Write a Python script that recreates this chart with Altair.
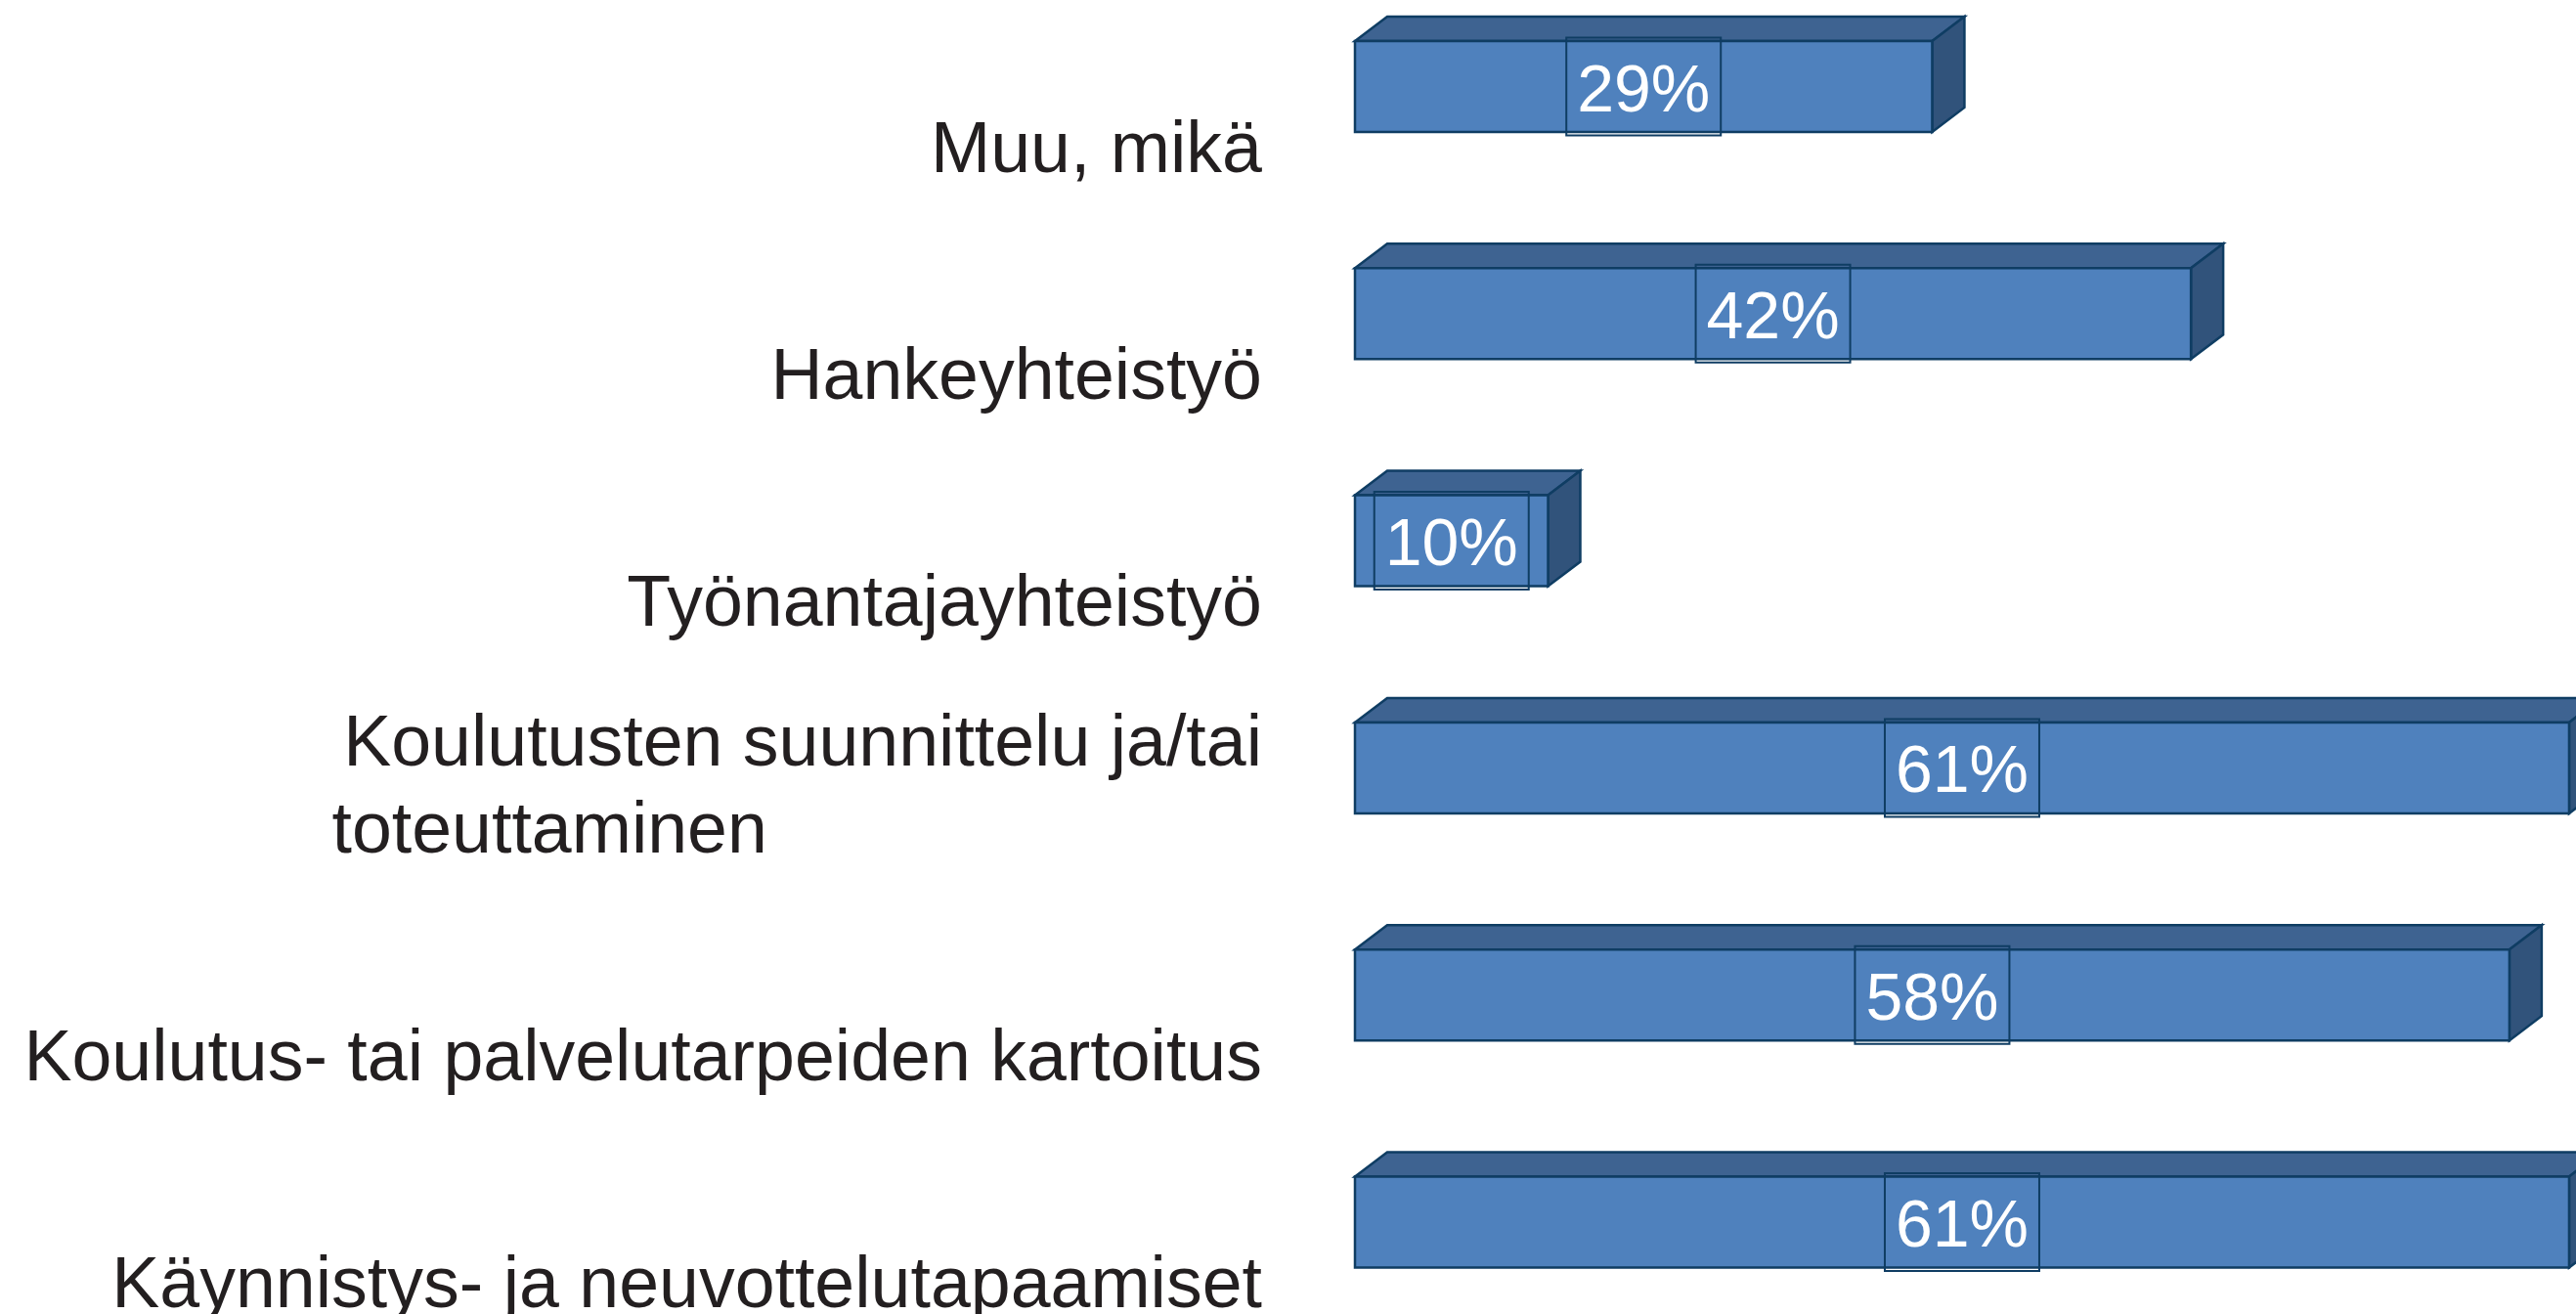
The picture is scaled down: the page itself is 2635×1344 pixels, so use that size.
import altair as alt
import pandas as pd

# ---- data ----
label_line1 = ["Muu, mikä", "Hankeyhteistyö", "Työnantajayhteistyö",
               "Koulutusten suunnittelu ja/tai",
               "Koulutus- tai palvelutarpeiden kartoitus",
               "Käynnistys- ja neuvottelutapaamiset"]
label_line2 = ["", "", "", "toteuttaminen", "", ""]
values = [29, 42, 9.7, 61, 58, 61]

# ---- style / geometry constants ----
W, H = 2635, 1344
LEFT = 1386                  # pixel where 0 % sits
PX_PER_PCT = 20.36
ROW_PX = 232.3
FIRST_ROW_PX = 88.5
LINE_PX = 89
HALF_H = 46.5 / ROW_PX       # half bar thickness in row units
DEPTH_X = 33 / PX_PER_PCT    # 3-D depth in % units
DEPTH_Y = 25 / ROW_PX        # 3-D depth in row units

FRONT = "#4F81BD"
TOP = "#3E6391"
SIDE = "#31537B"
EDGE = "#0F3D63"

XMAX = (W - LEFT) / PX_PER_PCT
YMIN = -FIRST_ROW_PX / ROW_PX
YMAX = (H - FIRST_ROW_PX) / ROW_PX
xs = alt.Scale(domain=[0, XMAX], nice=False, zero=False)
ys = alt.Scale(domain=[YMIN, YMAX], nice=False, zero=False, reverse=True)

rows = []
top_pts = []
side_pts = []
for i, (l1, l2, v) in enumerate(zip(label_line1, label_line2, values)):
    yt = i - HALF_H
    yb = i + HALF_H
    nextra = 1 if l2 else 0
    rows.append({"idx": i, "value": v, "x0": 0, "yt": yt, "yb": yb,
                 "ly1": i - nextra * LINE_PX / ROW_PX,
                 "line1": l1, "line2": l2})
    for k, (px, py, py2) in enumerate([(0, yt, yt),
                                       (DEPTH_X, yt - DEPTH_Y, yt),
                                       (v, yt - DEPTH_Y, yt),
                                       (v + DEPTH_X, yt - DEPTH_Y, yt - DEPTH_Y)]):
        top_pts.append({"idx": i, "k": k, "px": px, "py": py, "py2": py2})
    for k, (px, py) in enumerate([(v, yt), (v + DEPTH_X, yt - DEPTH_Y),
                                  (v + DEPTH_X, yb - DEPTH_Y), (v, yb), (v, yt)]):
        side_pts.append({"idx": i, "k": k, "px": px, "py": py})

bars = alt.Data(values=rows)

top = alt.Chart(alt.Data(values=top_pts)).mark_area(
    orient="vertical", color=TOP, stroke=EDGE, strokeWidth=2.5, opacity=1
).encode(
    x=alt.X("px:Q", scale=xs, axis=None),
    y=alt.Y("py:Q", scale=ys, axis=None),
    y2="py2:Q",
    detail="idx:N",
)

side = alt.Chart(alt.Data(values=side_pts)).mark_line(
    fill=SIDE, stroke=EDGE, strokeWidth=2.5, opacity=1
).encode(
    x=alt.X("px:Q", scale=xs, axis=None),
    y=alt.Y("py:Q", scale=ys, axis=None),
    detail="idx:N",
    order="k:Q",
)

front = alt.Chart(bars).mark_rect(
    color=FRONT, stroke=EDGE, strokeWidth=2.5
).encode(
    x=alt.X("x0:Q", scale=xs, axis=None),
    x2="value:Q",
    y=alt.Y("yt:Q", scale=ys, axis=None),
    y2="yb:Q",
)

box = alt.Chart(bars).transform_calculate(
    mid="datum.value / 2"
).mark_point(
    shape="M-1,-0.633H1V0.633H-1Z", size=158 * 158, filled=False,
    stroke=EDGE, strokeWidth=2, opacity=1
).encode(
    x=alt.X("mid:Q", scale=xs, axis=None),
    y=alt.Y("idx:Q", scale=ys, axis=None),
)

vlabels = alt.Chart(bars).transform_calculate(
    mid="datum.value / 2",
    txt="format(datum.value, '.0f') + '%'"
).mark_text(
    font="Liberation Sans", fontSize=68, color="white",
    align="center", baseline="alphabetic", dy=25
).encode(
    x=alt.X("mid:Q", scale=xs, axis=None),
    y=alt.Y("idx:Q", scale=ys, axis=None),
    text=alt.Text("txt:N"),
)

clabels = alt.Chart(bars).mark_text(
    font="Liberation Sans", fontSize=73.5, color="#231F20",
    align="right", baseline="alphabetic", dy=87
).encode(
    x=alt.value(-95),
    y=alt.Y("ly1:Q", scale=ys, axis=None),
    text=alt.Text("line1:N"),
)

clabels2 = alt.Chart(bars).transform_filter(
    "datum.line2 != ''"
).mark_text(
    font="Liberation Sans", fontSize=73.5, color="#231F20",
    align="left", baseline="alphabetic", dy=87
).encode(
    x=alt.value(339.5 - LEFT),
    y=alt.Y("idx:Q", scale=ys, axis=None),
    text=alt.Text("line2:N"),
)

chart = alt.layer(top, side, front, box, vlabels, clabels, clabels2).properties(
    width=W - LEFT, height=H,
    padding={"left": LEFT, "right": 0, "top": 0, "bottom": 0},
    autosize=alt.AutoSizeParams(type="none"),
    background="white",
).configure_view(stroke=None)

chart.save("out.html", embed_options={"renderer": "svg", "actions": False})
